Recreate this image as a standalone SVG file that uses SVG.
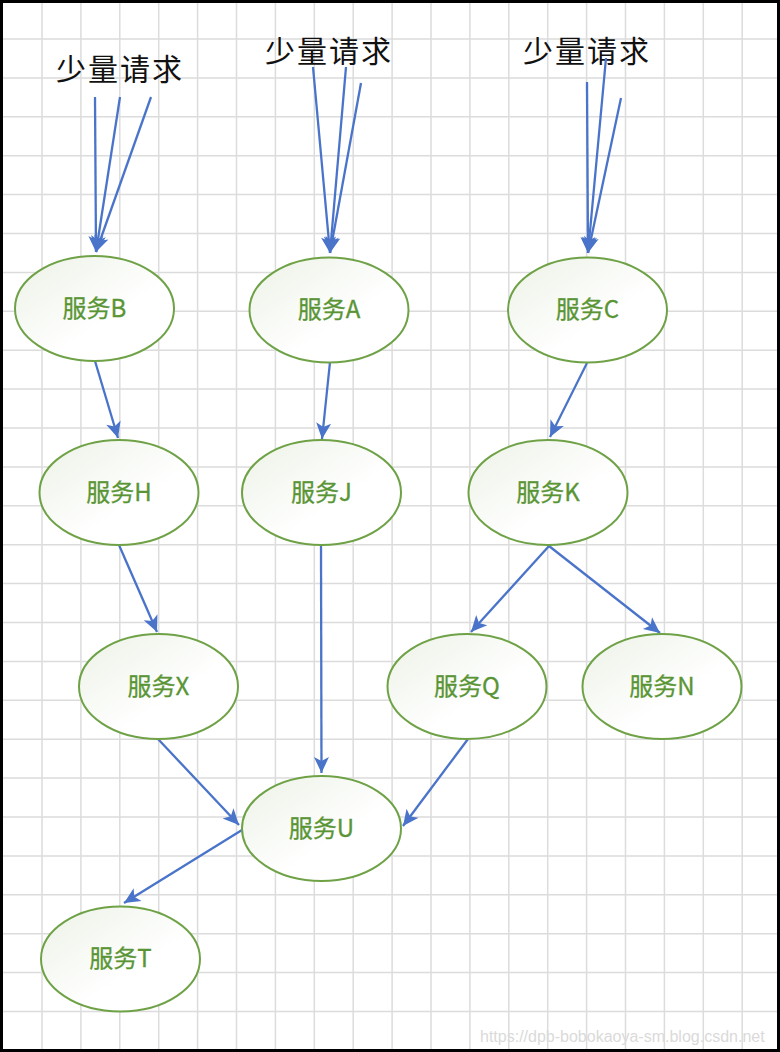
<svg xmlns="http://www.w3.org/2000/svg" width="780" height="1052" viewBox="0 0 780 1052">
<defs>
<style>
.grid{stroke:#dcdcdc;stroke-width:1.5;fill:none}
.node ellipse{fill:url(#nf);stroke:#6fa247;stroke-width:2}
.node text{font-family:"Noto Sans CJK SC","Noto Sans",sans-serif;font-size:24px;fill:#5a9535;stroke:#5a9535;stroke-width:0.3;text-anchor:middle}
.title{font-family:"Noto Sans CJK SC",sans-serif;font-size:30px;fill:#111;letter-spacing:2px}
.edge line{stroke:#4a74c9;stroke-width:2.3;marker-end:url(#ah)}
.wm{font-family:"Liberation Sans",Arial,sans-serif;font-size:16px;fill:#dadada}
</style>
<linearGradient id="nf" x1="0" y1="0" x2="1" y2="1">
<stop offset="0" stop-color="#ecf2e6"/>
<stop offset="0.6" stop-color="#ffffff"/>
<stop offset="1" stop-color="#ffffff"/>
</linearGradient>
<marker id="ah" markerUnits="userSpaceOnUse" markerWidth="22" markerHeight="18" viewBox="-18 -9 20 18" refX="0" refY="0" orient="auto">
<path d="M0,0 L-16,-7.5 L-12,0 L-16,7.5 Z" fill="#4a74c9"/>
</marker>
</defs>
<rect x="0" y="0" width="780" height="1052" fill="#ffffff"/>
<path class="grid" d="M42,0V1052M80.9,0V1052M119.8,0V1052M158.7,0V1052M197.6,0V1052M236.5,0V1052M275.4,0V1052M314.3,0V1052M353.2,0V1052M392.1,0V1052M431,0V1052M469.9,0V1052M508.8,0V1052M547.7,0V1052M586.6,0V1052M625.5,0V1052M664.4,0V1052M703.3,0V1052M742.2,0V1052
M0,39H780M0,77.9H780M0,116.8H780M0,155.7H780M0,194.6H780M0,233.5H780M0,272.4H780M0,311.3H780M0,350.2H780M0,389.1H780M0,428H780M0,466.9H780M0,505.8H780M0,544.7H780M0,583.6H780M0,622.5H780M0,661.4H780M0,700.3H780M0,739.2H780M0,778.1H780M0,817H780M0,855.9H780M0,894.8H780M0,933.7H780M0,972.6H780M0,1011.5H780"/>
<text class="title" x="56" y="80">少量请求</text>
<text class="title" x="265" y="62">少量请求</text>
<text class="title" x="523" y="62">少量请求</text>
<g id="connectors" class="edge">
<line x1="95" y1="97" x2="96" y2="252"/>
<line x1="120" y1="97" x2="96" y2="252"/>
<line x1="151" y1="97" x2="96" y2="252"/>
<line x1="313" y1="67" x2="330" y2="253"/>
<line x1="346" y1="67" x2="330" y2="253"/>
<line x1="361" y1="83" x2="330" y2="253"/>
<line x1="587" y1="82" x2="588" y2="253"/>
<line x1="606" y1="58" x2="588" y2="253"/>
<line x1="621" y1="98" x2="588" y2="253"/>
<line x1="95" y1="361" x2="118" y2="438"/>
<line x1="330" y1="362" x2="322" y2="439"/>
<line x1="587" y1="363" x2="550" y2="437"/>
<line x1="119" y1="545" x2="157" y2="632"/>
<line x1="321" y1="545" x2="321.5" y2="773"/>
<line x1="549" y1="546" x2="471" y2="632"/>
<line x1="549" y1="546" x2="660" y2="633"/>
<line x1="158" y1="739" x2="239" y2="825"/>
<line x1="468" y1="739" x2="403" y2="826"/>
<line x1="242" y1="830" x2="124" y2="903"/>
</g>
<g id="nodeB" class="node"><ellipse cx="94.5" cy="308.5" rx="79.5" ry="52.5"/><text x="94.5" y="316.5">服务B</text></g>
<g id="nodeA" class="node"><ellipse cx="329" cy="310" rx="79.5" ry="52.5"/><text x="329" y="318">服务A</text></g>
<g id="nodeC" class="node"><ellipse cx="587.5" cy="310" rx="79.5" ry="52.5"/><text x="587.5" y="318">服务C</text></g>
<g id="nodeH" class="node"><ellipse cx="119" cy="492.5" rx="79.5" ry="52.5"/><text x="119" y="500.5">服务H</text></g>
<g id="nodeJ" class="node"><ellipse cx="321.5" cy="492.5" rx="79.5" ry="52.5"/><text x="321.5" y="500.5">服务J</text></g>
<g id="nodeK" class="node"><ellipse cx="548" cy="492.5" rx="79.5" ry="52.5"/><text x="548" y="500.5">服务K</text></g>
<g id="nodeX" class="node"><ellipse cx="158.5" cy="686.5" rx="79.5" ry="52.5"/><text x="158.5" y="694.5">服务X</text></g>
<g id="nodeQ" class="node"><ellipse cx="467" cy="686.5" rx="79.5" ry="52.5"/><text x="467" y="694.5">服务Q</text></g>
<g id="nodeN" class="node"><ellipse cx="662" cy="686.5" rx="79.5" ry="52.5"/><text x="662" y="694.5">服务N</text></g>
<g id="nodeU" class="node"><ellipse cx="321.5" cy="828.5" rx="79.5" ry="52.5"/><text x="321.5" y="836.5">服务U</text></g>
<g id="nodeT" class="node"><ellipse cx="120.5" cy="959" rx="79.5" ry="52.5"/><text x="120.5" y="967">服务T</text></g>
<text class="wm" x="480" y="1042">https://dpb-bobokaoya-sm.blog.csdn.net</text>
<rect x="1.5" y="1.5" width="777" height="1049" fill="none" stroke="#000" stroke-width="3"/>
</svg>
